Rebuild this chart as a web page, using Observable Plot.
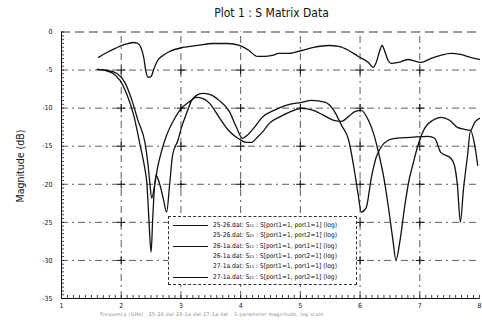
<!DOCTYPE html>
<html>
<head>
<meta charset="utf-8">
<script src="https://cdn.jsdelivr.net/npm/d3@7"></script>
<script src="https://cdn.jsdelivr.net/npm/@observablehq/plot@0.6"></script>
<style>
  body { margin: 0; background: #fff; }
  #wrap { position: relative; width: 482px; height: 320px; overflow: hidden; background: #fff;
    font-family: "DejaVu Sans Condensed", "Liberation Sans Narrow", "DejaVu Sans", sans-serif; font-stretch: condensed; color: #111; }
  #title { position: absolute; left: 61px; width: 421px; top: 6px; text-align: center; font-size: 12px; line-height: 14px; }
  #chart { position: absolute; left: 0; top: 20px; }
  #ylabel { position: absolute; left: 20px; top: 166px; transform: translate(-50%, -50%) rotate(-90deg); font-size: 10.5px; white-space: nowrap; }
  #legend { position: absolute; left: 168px; top: 216px; width: 189px; height: 69px; box-sizing: border-box;
    border: 1px dashed #333; background: #fff; }
  .row { position: absolute; left: 0; height: 10px; width: 100%; font-size: 6.6px; line-height: 10px; white-space: nowrap; color: #111; }
  .sw { position: absolute; left: 4px; top: 5px; width: 35px; height: 0; border-top: 1.3px solid #111; }
  .lt { position: absolute; left: 44px; top: 0; font-family: "DejaVu Sans Condensed", "DejaVu Sans", sans-serif; }
  #caption { position: absolute; left: 100px; top: 311px; font-size: 5px; color: #888; white-space: nowrap; letter-spacing: 0.4px; }
</style>
</head>
<body>
<div id="wrap">
  <div id="title"></div>
  <div id="chart"></div>
  <div id="ylabel"></div>
  <div id="legend"></div>
  <div id="caption"></div>
</div>
<script>
// ---- text ----
const titleText = "Plot 1 : S Matrix Data";
const yLabelText = "Magnitude (dB)";
const captionText = "Frequency (GHz)   ·   25-26.dat   26-1a.dat   27-1a.dat   ·   S-parameter magnitude, log scale";

// ---- axis ticks ----
const xTicks = [1, 2, 3, 4, 5, 6, 7, 8];
const yTicks = [0, -5, -10, -15, -20, -25, -30, -35];

// ---- legend entries ----
const legendLabels = [
  "25-26.dat: S₁₁ : S[port1=1, port1=1] (log)",
  "25-26.dat: S₂₁ : S[port1=1, port2=1] (log)",
  "26-1a.dat: S₁₁ : S[port1=1, port1=1] (log)",
  "26-1a.dat: S₂₁ : S[port1=1, port2=1] (log)",
  "27-1a.dat: S₁₁ : S[port1=1, port1=1] (log)",
  "27-1a.dat: S₂₁ : S[port1=1, port2=1] (log)"
];
const legendVisible = [true, false, true, false, false, true];

// ---- series: 25-26.dat S11 ----
const s11_2526_freq = [1.60,1.73,1.865,1.98,2.10,2.21,2.31,2.40,2.43,2.46,2.50,2.53,2.58,2.65,2.71,2.76,2.81,2.86,2.95,3.01,3.10,3.18,3.26,3.36,3.48,3.64,3.81,3.93,4.03,4.11,4.23,4.36,4.56,4.76,5.02,5.19,5.42,5.56,5.69,5.81,5.89,5.97,6.02,6.10,6.19,6.27,6.35,6.47,6.59,6.85,7.14,7.25,7.35,7.52,7.58,7.63,7.68,7.73,7.80,7.85,7.92,7.97];
const s11_2526_db   = [-4.92,-5.05,-5.44,-6.36,-8.32,-10.95,-14.62,-18.16,-19.86,-24.06,-28.91,-24.06,-18.81,-20.12,-22.09,-23.66,-20.12,-16.19,-14.22,-12.52,-10.55,-8.98,-8.32,-8.06,-8.19,-8.98,-10.42,-12.52,-13.96,-13.57,-12.52,-11.21,-10.29,-9.64,-9.24,-8.98,-9.24,-10.29,-12.26,-14.22,-17.50,-21.43,-23.66,-23.14,-19.08,-16.45,-15.14,-14.22,-13.96,-13.83,-13.70,-13.96,-15.80,-16.58,-17.50,-20.12,-24.97,-20.78,-16.19,-12.91,-14.88,-17.50];

// ---- series: 26-1a.dat S11 ----
const s11_261a_freq = [1.60,1.78,1.93,2.06,2.18,2.28,2.40,2.45,2.48,2.51,2.56,2.61,2.68,2.76,2.86,2.98,3.15,3.26,3.36,3.48,3.64,3.81,3.98,4.09,4.18,4.28,4.39,4.48,4.64,4.81,5.02,5.22,5.39,5.56,5.69,5.81,5.92,6.02,6.14,6.22,6.30,6.39,6.47,6.55,6.60,6.67,6.75,6.82,6.89,6.97,7.09,7.22,7.35,7.50,7.63,7.75,7.85,7.92,8.00];
const s11_261a_db   = [-4.92,-5.05,-5.44,-6.62,-8.98,-11.60,-14.62,-17.50,-19.86,-21.83,-20.12,-17.76,-15.53,-13.57,-11.86,-10.29,-9.11,-8.59,-8.72,-9.37,-11.21,-13.04,-14.09,-14.49,-14.49,-13.83,-12.91,-12.00,-11.21,-10.55,-10.03,-10.29,-10.95,-11.60,-11.73,-11.08,-10.42,-10.29,-11.60,-13.18,-15.53,-18.81,-22.75,-27.33,-29.96,-27.33,-22.75,-19.47,-17.24,-14.88,-12.52,-11.60,-11.21,-11.60,-12.52,-12.78,-12.91,-11.86,-11.34];

// ---- series: 27-1a.dat S21 ----
const s21_271a_freq = [1.62,1.73,1.90,2.06,2.20,2.28,2.33,2.38,2.41,2.45,2.50,2.55,2.61,2.70,2.81,3.03,3.28,3.53,3.78,3.98,4.14,4.28,4.39,4.53,4.64,4.81,5.02,5.22,5.47,5.64,5.81,5.97,6.14,6.22,6.27,6.32,6.37,6.42,6.47,6.52,6.64,6.80,6.94,7.02,7.19,7.35,7.52,7.68,7.85,8.00];
const s21_271a_db   = [-3.34,-2.82,-2.16,-1.64,-1.38,-1.51,-2.03,-3.47,-5.05,-5.96,-5.83,-4.79,-3.74,-3.08,-2.56,-2.03,-1.77,-1.51,-1.51,-1.77,-2.43,-3.21,-3.21,-3.08,-2.82,-2.82,-2.43,-2.03,-1.77,-1.90,-2.43,-3.21,-4.00,-4.65,-4.00,-2.69,-1.77,-2.69,-3.74,-4.13,-4.00,-3.61,-3.87,-4.00,-3.47,-3.08,-2.82,-2.95,-3.34,-3.61];

// ---- build table ----
const table = [];
function addSeries(name, fs, dbs) { fs.forEach((f, i) => table.push({series: name, f, db: dbs[i]})); }
addSeries(legendLabels[0], s11_2526_freq, s11_2526_db);
addSeries(legendLabels[2], s11_261a_freq, s11_261a_db);
addSeries(legendLabels[5], s21_271a_freq, s21_271a_db);

const xMin = d3.min(xTicks), xMax = d3.max(xTicks);
const yMin = d3.min(yTicks), yMax = d3.max(yTicks);
const gridX = xTicks.filter(d => d > xMin && d < xMax);
const gridY = yTicks.filter(d => d > yMin && d < yMax);
const crosses = d3.cross(gridX, gridY).map(([x, y]) => ({x, y}));
const yMinor = d3.range(yMin, yMax + 0.001, 0.5);
const xMinor = d3.range(xMin, xMax + 0.001, 0.1);

const font = '"DejaVu Sans Condensed","Liberation Sans Narrow","DejaVu Sans",sans-serif';
const ink = "#111";

const chart = Plot.plot({
  width: 482, height: 300,
  marginLeft: 61, marginRight: 3, marginTop: 11.5, marginBottom: 22,
  style: {fontFamily: font, fontSize: "7px", color: ink, background: "transparent", overflow: "visible", fontStretch: "condensed"},
  x: {domain: [xMin, xMax], ticks: xTicks, tickSize: 0, tickPadding: 5, label: null, tickFormat: d => String(d)},
  y: {domain: [yMin, yMax], ticks: yTicks, tickSize: 0, tickPadding: 9, label: null, tickFormat: d => String(d)},
  marks: [
    Plot.ruleX(gridX, {y1: yMin, y2: yMax, stroke: "#333", strokeWidth: 0.8, strokeDasharray: "7,4,2,4"}),
    Plot.ruleY(gridY, {x1: xMin, x2: xMax, stroke: "#333", strokeWidth: 0.8, strokeDasharray: "7,4,2,4"}),
    Plot.dot(crosses, {x: "x", y: "y", symbol: "plus", r: 2.8, stroke: ink, strokeWidth: 1}),
    Plot.ruleY([yMax], {x1: xMin, x2: xMax, stroke: "#222", strokeWidth: 0.9, strokeDasharray: "9,5"}),
    Plot.ruleX([xMin], {y1: yMin, y2: yMax, stroke: ink, strokeWidth: 1}),
    Plot.ruleY([yMin], {x1: xMin, x2: xMax, stroke: ink, strokeWidth: 1}),
    Plot.ruleY(yMinor, {x1: xMin, x2: xMin + 0.05, stroke: ink, strokeWidth: 0.8}),
    Plot.ruleX(xMinor, {y1: yMin - 0.12, y2: yMin + 0.4, stroke: ink, strokeWidth: 0.8}),
    Plot.line(table, {x: "f", y: "db", z: "series", stroke: ink, strokeWidth: 1.3, curve: "monotone-x"})
  ]
});
document.getElementById("chart").appendChild(chart);

document.getElementById("title").textContent = titleText;
document.getElementById("ylabel").textContent = yLabelText;
document.getElementById("caption").textContent = captionText;

const legend = document.getElementById("legend");
legendLabels.forEach((lab, i) => {
  const row = document.createElement("div");
  row.className = "row";
  row.style.top = (3 + i * 10.3) + "px";
  if (legendVisible[i]) {
    const sw = document.createElement("div");
    sw.className = "sw";
    row.appendChild(sw);
  }
  const t = document.createElement("div");
  t.className = "lt";
  t.textContent = lab;
  row.appendChild(t);
  legend.appendChild(row);
});
</script>
</body>
</html>
